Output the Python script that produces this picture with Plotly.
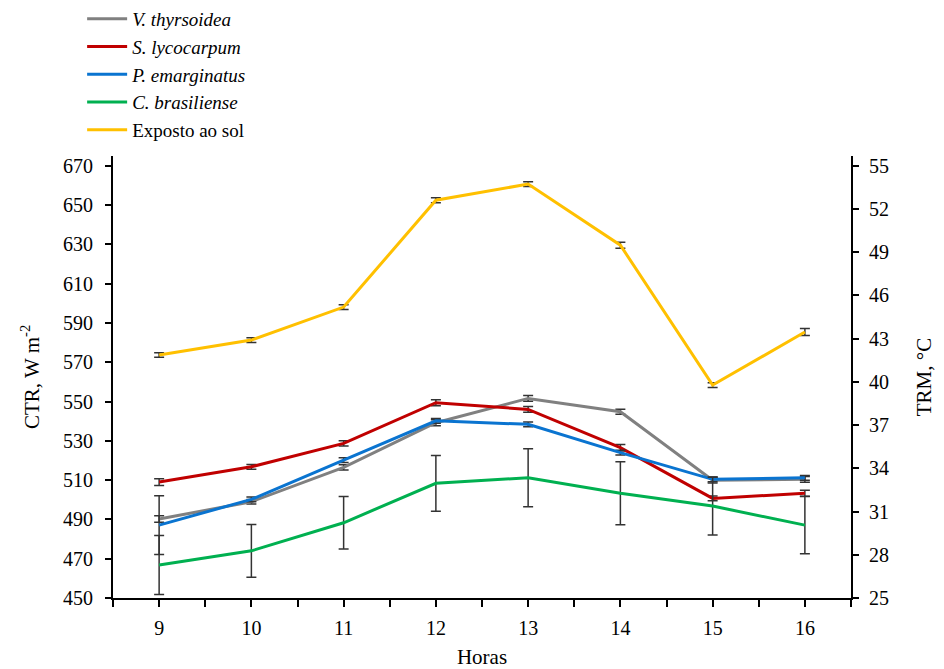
import plotly.graph_objects as go

horas = [9, 10, 11, 12, 13, 14, 15, 16]

v_thyrsoidea = [490.2, 499.0, 516.5, 539.2, 551.6, 544.8, 510.0, 510.4]
v_thyrsoidea_err = [1.7, 1.2, 1.3, 1.5, 1.5, 1.3, 1.5, 1.5]

s_lycocarpum = [509.0, 516.8, 528.7, 549.4, 546.0, 526.5, 500.7, 503.3]
s_lycocarpum_err = [1.7, 1.2, 1.3, 1.5, 1.5, 1.7, 1.2, 1.5]

p_emarginatus = [487.1, 500.2, 520.2, 540.2, 538.4, 524.0, 510.4, 511.2]
p_emarginatus_err = [15.0, 1.2, 1.2, 1.2, 1.2, 1.2, 1.2, 1.2]

c_brasiliense = [466.8, 474.0, 488.3, 508.4, 511.2, 503.3, 496.8, 487.1]
c_brasiliense_err = [15.0, 13.4, 13.4, 14.2, 14.8, 16.0, 14.7, 14.6]

exposto = [573.7, 581.3, 598.1, 652.5, 660.7, 629.6, 558.4, 585.4]
exposto_err = [1.2, 1.2, 1.2, 1.3, 1.2, 1.5, 1.2, 1.8]

names = ["<i>V. thyrsoidea</i>", "<i>S. lycocarpum</i>", "<i>P. emarginatus</i>",
         "<i>C. brasiliense</i>", "Exposto ao sol"]
colors = ["#808080", "#c00000", "#0a74d0", "#00b050", "#ffc000"]
series = [v_thyrsoidea, s_lycocarpum, p_emarginatus, c_brasiliense, exposto]
errors = [v_thyrsoidea_err, s_lycocarpum_err, p_emarginatus_err, c_brasiliense_err, exposto_err]

ctr_ticks = list(range(450, 671, 20))
trm_ticks = list(range(25, 56, 3))

FONT = "Liberation Serif, Times New Roman, serif"

fig = go.Figure()
for n, c, s, e in zip(names, colors, series, errors):
    fig.add_trace(go.Scatter(
        x=horas, y=s, name=n, mode="lines",
        line=dict(color=c, width=3),
        error_y=dict(type="data", array=e, visible=True, color="#333333",
                     thickness=1.5, width=5),
    ))

# dummy trace so the right axis is drawn
fig.add_trace(go.Scatter(x=[horas[0]], y=[None], yaxis="y2", showlegend=False,
                         hoverinfo="skip", mode="lines"))

fig.update_layout(
    width=944, height=669,
    margin=dict(l=113, r=93, t=156, b=71, autoexpand=False),
    paper_bgcolor="white", plot_bgcolor="white",
    font=dict(family=FONT, size=20, color="black"),
    showlegend=True,
    legend=dict(xref="container", yref="container", x=0.087, y=1.0,
                xanchor="left", yanchor="top",
                bgcolor="rgba(0,0,0,0)", font=dict(family=FONT, size=19),
                tracegroupgap=0, itemwidth=40),
    xaxis=dict(
        range=[8.5, 16.5], tickmode="linear", tick0=9, dtick=1,
        showgrid=False, zeroline=False, automargin=False,
        showline=True, linecolor="black", linewidth=2,
        ticks="outside", ticklen=7, tickwidth=2, tickcolor="black",
        minor=dict(tick0=8.5, dtick=0.5, ticks="outside", ticklen=7,
                   tickwidth=2, tickcolor="black", showgrid=False),
        title=dict(text="Horas", font=dict(size=21), standoff=11),
        tickfont=dict(size=20), ticklabelstandoff=4,
    ),
    yaxis=dict(
        range=[450, 675], tickvals=ctr_ticks,
        showgrid=False, zeroline=False, automargin=False,
        showline=True, linecolor="black", linewidth=2,
        ticks="outside", ticklen=6, tickwidth=2, tickcolor="black",
        tickfont=dict(size=20), ticklabelstandoff=8,
    ),
    yaxis2=dict(
        overlaying="y", side="right", automargin=False,
        range=[25, 25 + 225 * 30 / 220], tickvals=trm_ticks,
        showgrid=False, zeroline=False,
        showline=True, linecolor="black", linewidth=2,
        ticks="outside", ticklen=6, tickwidth=2, tickcolor="black",
        title=dict(text="TRM, °C", font=dict(size=21), standoff=28),
        tickfont=dict(size=20), ticklabelstandoff=6,
    ),
    annotations=[dict(
        text="CTR, W m<sup>-2</sup>", textangle=-90,
        xref="paper", yref="paper", x=-0.1125, y=0.5,
        xanchor="center", yanchor="middle", showarrow=False,
        font=dict(family=FONT, size=21, color="black"),
    )],
)

fig.write_html("out.html")
